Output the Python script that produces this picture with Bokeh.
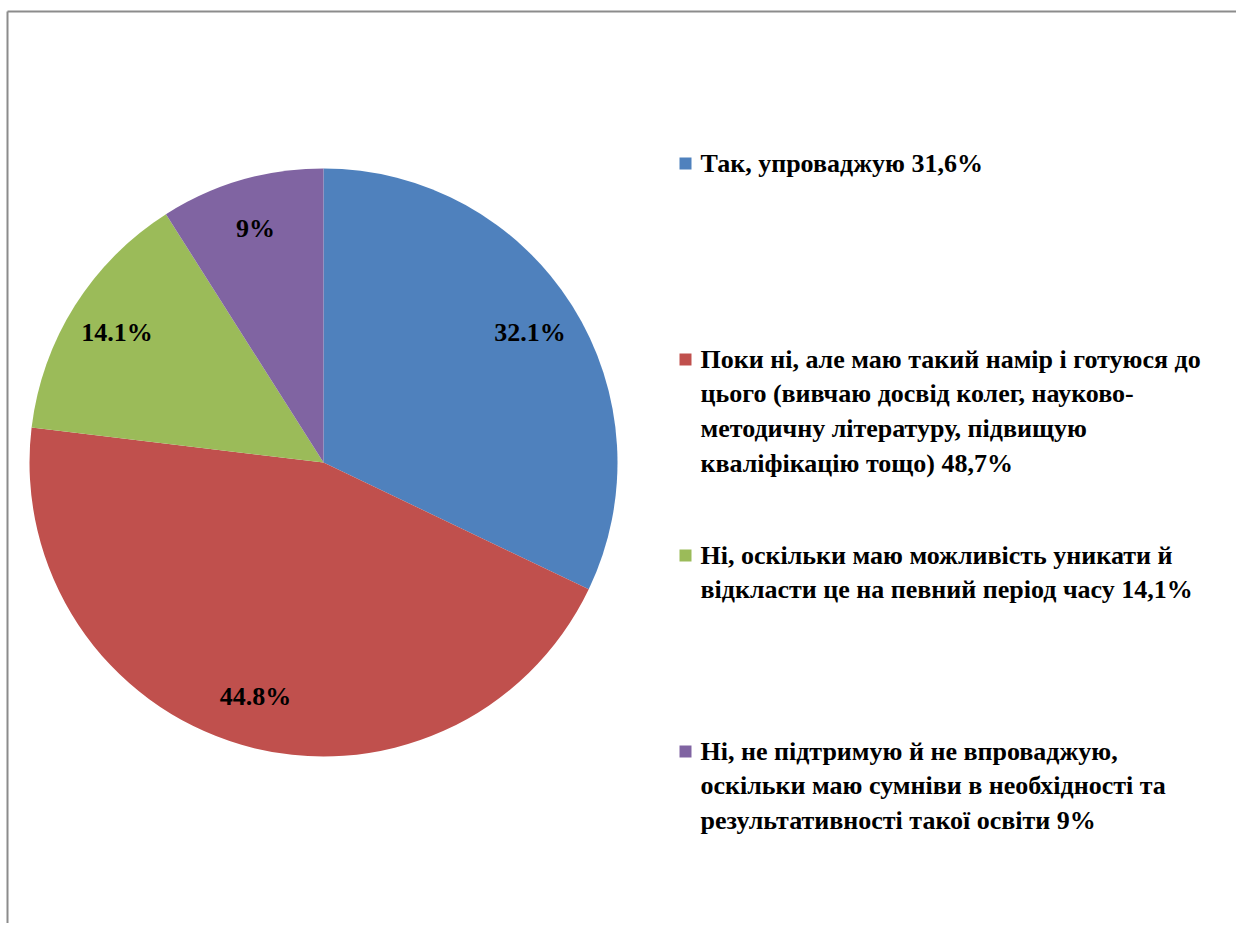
import math
from bokeh.plotting import figure
from bokeh.models import Range1d, ColumnDataSource
from bokeh.embed import file_html
from bokeh.resources import INLINE
from bokeh.core.properties import value

# ---- data ----
pie_values = [32.1, 44.8, 14.1, 9.0]
pie_labels = ["32.1%", "44.8%", "14.1%", "9%"]
legend_labels = [
    "Так, упроваджую 31,6%",
    "Поки ні, але маю такий намір і готуюся до\nцього (вивчаю досвід колег, науково-\nметодичну літературу, підвищую\nкваліфікацію тощо)  48,7%",
    "Ні, оскільки маю можливість уникати й\nвідкласти це на певний період часу 14,1%",
    "Ні, не підтримую й не впроваджую,\nоскільки маю сумніви в необхідності та\nрезультативності такої освіти 9%",
]
colors = ["#4F81BD", "#C0504D", "#9BBB59", "#8064A2"]

# ---- layout (pixel-like data space) ----
W, H = 1236, 923
FONT = value("Liberation Serif")

p = figure(width=W, height=H, x_range=Range1d(0, W), y_range=Range1d(0, H),
           output_backend="svg", toolbar_location=None, min_border=0)
p.axis.visible = False
p.grid.visible = False
p.outline_line_color = "white"

# pie
cx, cy, r = 323.0, float(H - 462), 294.0
total = float(sum(pie_values))
cum = [0.0]
for v in pie_values:
    cum.append(cum[-1] + v / total)
start = [math.pi / 2 - 2 * math.pi * c for c in cum[:-1]]
end = [math.pi / 2 - 2 * math.pi * c for c in cum[1:]]
mid = [(s + e) / 2 for s, e in zip(start, end)]
src = ColumnDataSource(dict(start=start, end=end, color=colors,
                            x=[cx] * 4, y=[cy] * 4))
p.wedge(x="x", y="y", radius=r, start_angle="start", end_angle="end",
        direction="clock", fill_color="color", line_color=None, source=src)

lr = 0.83 * r
lab = ColumnDataSource(dict(x=[cx + lr * math.cos(m) for m in mid],
                            y=[cy + lr * math.sin(m) for m in mid],
                            text=pie_labels))
p.text(x="x", y="y", text="text", source=lab, text_font=FONT,
       text_font_style="bold", text_font_size="26px",
       text_align="center", text_baseline="middle")

# legend
n = len(legend_labels)
ly = [float(H - (163 + i * 196)) for i in range(n)]
leg = ColumnDataSource(dict(x=[685.0] * n, y=ly, color=colors,
                            tx=[700.0] * n, ty=[v + 15 for v in ly],
                            text=legend_labels))
p.scatter(x="x", y="y", marker="square", size=12, fill_color="color",
          line_color=None, source=leg)
p.text(x="tx", y="ty", text="text", source=leg, text_font=FONT,
       text_font_style="bold", text_font_size="26px",
       text_align="left", text_baseline="top", text_line_height=1.2)

# frame lines (left and top edges)
p.segment(x0=[7, 7], y0=[H - 11, H - 11], x1=[7, W + 20], y1=[-20, H - 11],
          line_color="#8c8c8c", line_width=2)

open("out.html", "w").write(file_html(p, INLINE))
